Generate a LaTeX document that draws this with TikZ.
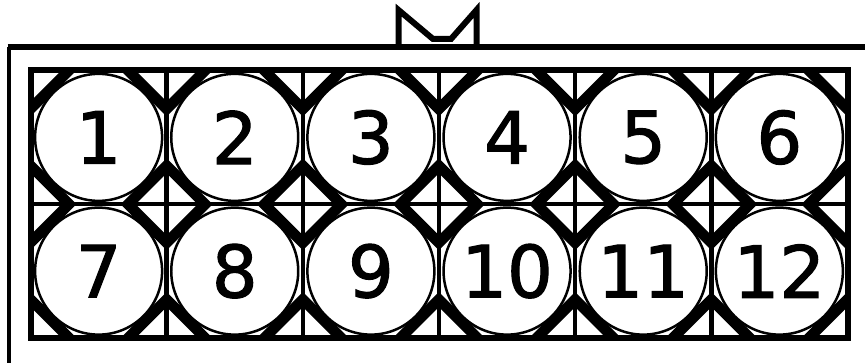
\documentclass[tikz,border=0pt]{standalone}
\usepackage{fontspec}
\setmainfont{DejaVu Sans}
\newfontfamily\pinfont{DejaVu Sans}[FakeBold=1.6]
\usetikzlibrary{positioning}

\tikzset{
  housing/.style={line width=4pt},
  latchline/.style={line width=6pt, miter limit=3},
  cellframe/.style={line width=6pt},
  divider/.style={line width=4.5pt},
  band/.style={fill=black},
  cavity/.style={circle, draw, fill=white, line width=2.5pt, minimum size=127pt,
    inner sep=0pt, font=\pinfont\fontsize{72}{72}\selectfont},
}

\begin{document}
\begin{tikzpicture}[x=1pt,y=-1pt]
\useasboundingbox (0,0) rectangle (865,363);

% housing, runs off the page
\draw[line width=3.5pt] (9,375) -- (9,47.5);
\draw[line width=6pt] (7.5,47.5) -- (875,47.5);

% locking latch
\draw[latchline] (398.5,47.5) -- (398.5,10) -- (433,39) -- (451,39) -- (476.5,10) -- (476.5,47.5);

% cavity cells
\def\cw{68.08}
\def\ch{66.875}
\def\ca{31}
\def\cb{46}
\foreach \j in {0,1} {
  \foreach \i in {0,...,5} {
    \pgfmathsetmacro\cx{30.5+\cw+2*\cw*\i}
    \pgfmathsetmacro\cy{70.5+\ch+2*\ch*\j}
    \pgfmathtruncatemacro\n{6*\j+\i+1}
    % corner bands
    \foreach \sx in {-1,1} {
      \foreach \sy in {-1,1} {
        \fill[band] ({\cx+\sx*(\cw-\ca)},{\cy+\sy*\ch}) -- ({\cx+\sx*(\cw-\cb)},{\cy+\sy*\ch})
          -- ({\cx+\sx*\cw},{\cy+\sy*(\ch-\cb)}) -- ({\cx+\sx*\cw},{\cy+\sy*(\ch-\ca)}) -- cycle;
      }
    }
    \node[cavity] (pin\n) at (\cx,\cy) {\n};
  }
}

% grid
\foreach \k in {1,...,5} {
  \draw[divider] ({30.5+2*\cw*\k},70.5) -- ({30.5+2*\cw*\k},338);
}
\draw[divider] (30.5,204.25) -- (847.5,204.25);
\draw[cellframe] (30.5,70.5) rectangle (847.5,338);

\end{tikzpicture}
\end{document}
